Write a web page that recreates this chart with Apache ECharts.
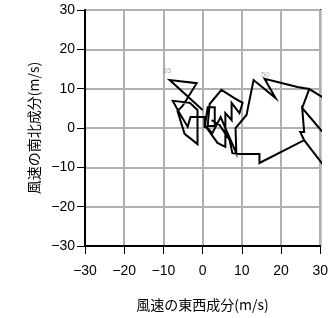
<!DOCTYPE html>
<html>
<head>
<meta charset="utf-8">
<script src="https://cdn.jsdelivr.net/npm/echarts@6/dist/echarts.min.js"></script>
<style>html,body{margin:0;padding:0;background:#fff}#c{width:331px;height:318px}</style>
</head>
<body>
<div id="c"></div>
<script>
// Wind hodograph: east-west (u) and north-south (v) components, m/s
var uValues = [0, -8.4, -1.5, -5.1, -6.4, -4.6, -1.3, -1.3, -3.3, -7.6, -5.8, -3.8, -3.1, 0.5, 0.5, 1.3, 3.1, 3.1, 1.3, 1.8,
  4.8, 8.1, 10.2, 9.4, 7.4, 7.4, 5.8, 5.8, 3.8, 0.5, 2.5, 4.6, 8.6, 8.4, 11.2, 13.0, 18.6, 15.8, 24.2, 27.2,
  31.0, 27.2, 25.4, 30.5, 25.4, 25.9, 24.9, 25.9, 31.0, 25.9, 14.5, 14.5, 9.4, 7.6, 6.9, 4.3, 2.3];
var vValues = [4.6, 12.2, 11.4, 5.6, 4.3, -1.5, -4.1, 4.6, 6.4, 6.9, 3.6, 0.3, 2.8, 2.8, 0, 5.3, 5.3, 0.5, 0.5, 6.1,
  9.7, 7.6, 6.4, 3.8, 6.4, 2.0, 3.8, -4.8, -3.8, 0.8, -1.3, 2.8, -6.4, 0, 3.3, 12.2, 7.6, 12.5, 10.4, 9.9,
  7.6, 9.9, 5.1, -0.9, 5.1, -1.0, -1.0, -3.1, -9.7, -3.1, -8.9, -6.6, -6.6, -6.4, -3.1, 0.8, 2.0];
var markLabels = ['85', '50'];
var markU = [-9.1, 16.0];
var markV = [14.5, 13.5];
var axisTicks = [-30, -20, -10, 0, 10, 20, 30];
var xName = '風速の東西成分(m/s)';
var yName = '風速の南北成分(m/s)';

var lineData = uValues.map(function (u, i) { return [u, vValues[i]]; });
var labelData = markLabels.map(function (t, i) { return { name: t, value: [markU[i], markV[i]] }; });

var tickFont = 'Liberation Sans, Arial, sans-serif';
var cjkFont = 'Noto Sans CJK JP, sans-serif';
function fmt(v) { return v < 0 ? '\u2212' + Math.abs(v) : String(v); }

var chart = echarts.init(document.getElementById('c'), null, { renderer: 'canvas' });
chart.setOption({
  animation: false,
  backgroundColor: '#fff',
  grid: { left: 85, top: 10, width: 236, height: 236, show: true, borderColor: '#000', borderWidth: 2, containLabel: false },
  xAxis: {
    type: 'value', min: axisTicks[0], max: axisTicks[axisTicks.length - 1], interval: 10,
    name: xName, nameLocation: 'middle', nameGap: 52,
    nameTextStyle: { fontFamily: cjkFont, fontSize: 14, color: '#000' },
    axisLine: { show: true, onZero: false, lineStyle: { color: '#000', width: 2 } },
    axisTick: { show: true, length: 8, lineStyle: { color: '#000', width: 1 } },
    axisLabel: { fontFamily: tickFont, fontSize: 14, color: '#000', margin: 18, formatter: fmt },
    splitLine: { show: true, lineStyle: { color: '#b0b0b0', width: 2 } }
  },
  yAxis: {
    type: 'value', min: axisTicks[0], max: axisTicks[axisTicks.length - 1], interval: 10,
    name: yName, nameLocation: 'middle', nameGap: 44, nameRotate: 90,
    nameTextStyle: { fontFamily: cjkFont, fontSize: 14, color: '#000' },
    axisLine: { show: true, onZero: false, lineStyle: { color: '#000', width: 2 } },
    axisTick: { show: true, length: 8, lineStyle: { color: '#000', width: 1 } },
    axisLabel: { fontFamily: tickFont, fontSize: 14, color: '#000', margin: 10, formatter: fmt },
    splitLine: { show: true, lineStyle: { color: '#b0b0b0', width: 2 } }
  },
  series: [
    {
      type: 'line', data: lineData, showSymbol: false, symbol: 'none', clip: true,
      lineStyle: { color: '#000', width: 2, join: 'miter' }, z: 3
    },
    {
      type: 'scatter', data: labelData, symbolSize: 1, itemStyle: { color: 'rgba(0,0,0,0)' },
      label: { show: true, position: 'inside', formatter: function (p) { return p.name; },
        fontFamily: tickFont, fontSize: 8, color: '#999' }, z: 4
    }
  ]
});
</script>
</body>
</html>
